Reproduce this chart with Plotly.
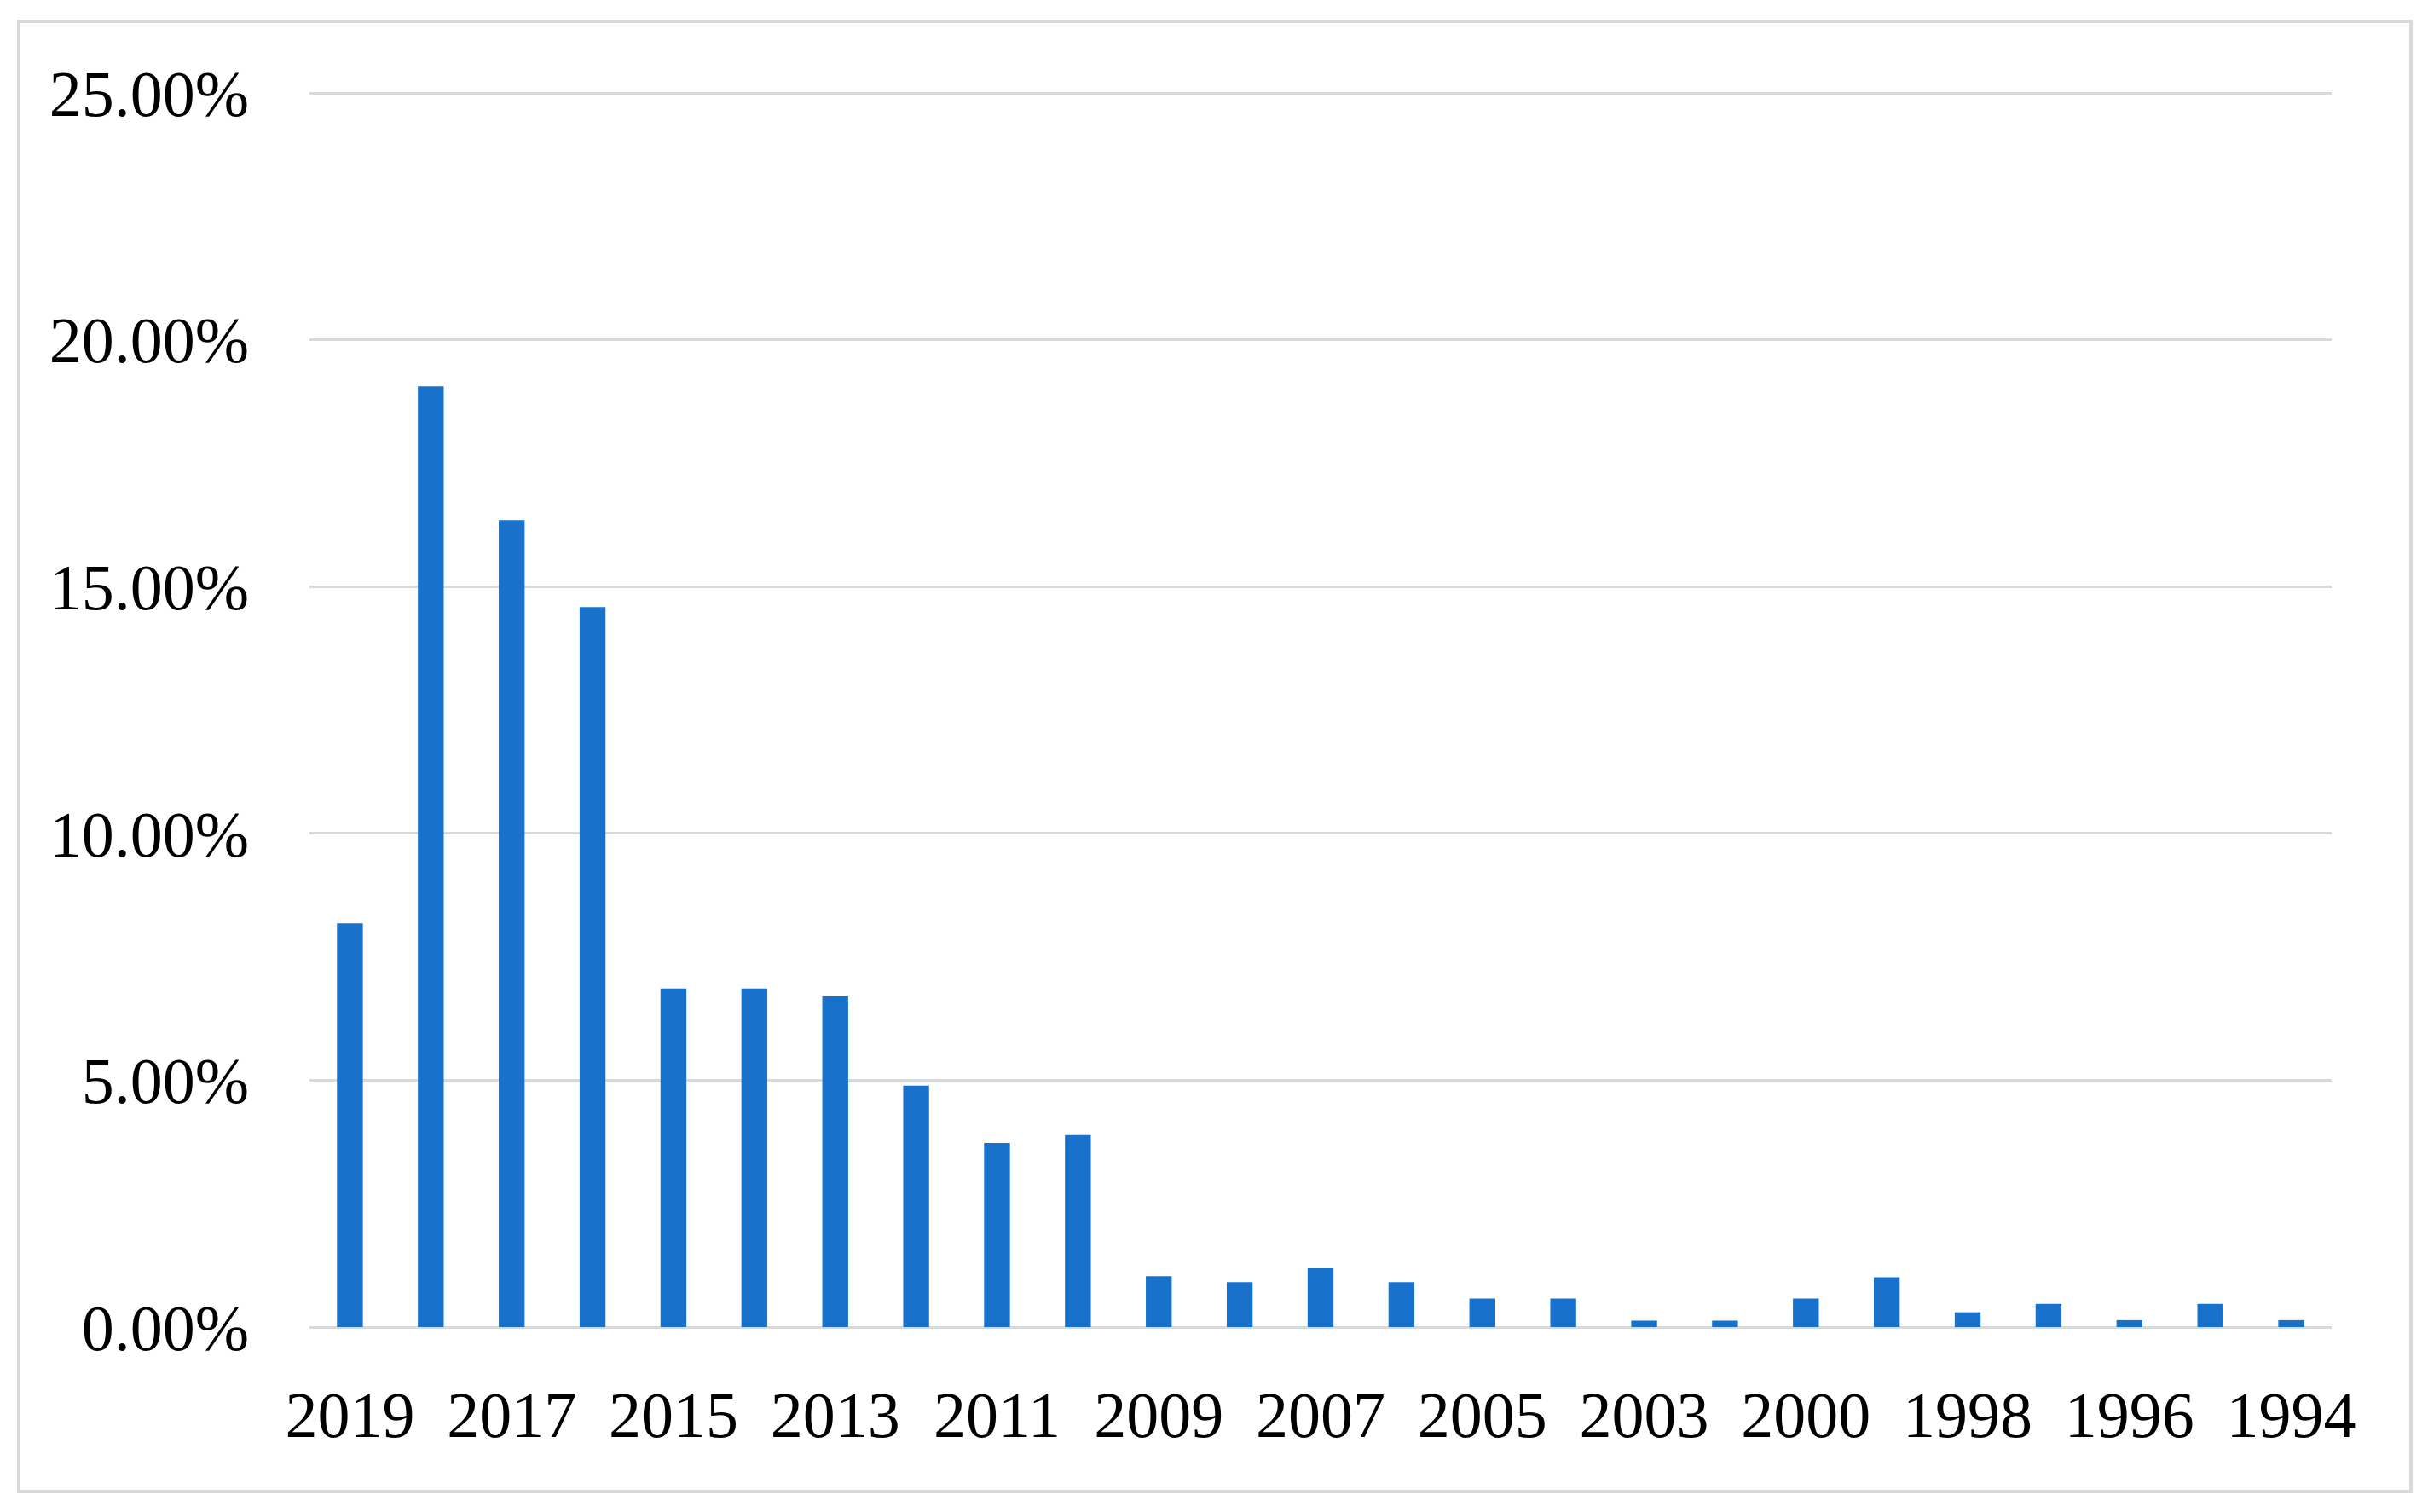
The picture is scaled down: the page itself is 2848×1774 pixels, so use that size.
import plotly.graph_objects as go

years = ["2019", "2018", "2017", "2016", "2015", "2014", "2013", "2012", "2011", "2010",
         "2009", "2008", "2007", "2006", "2005", "2004", "2003", "2002", "2000", "1999",
         "1998", "1997", "1996", "1995", "1994"]
share = [8.18, 19.06, 16.35, 14.59, 6.86, 6.86, 6.70, 4.89, 3.73, 3.89,
         1.03, 0.91, 1.19, 0.91, 0.58, 0.58, 0.13, 0.13, 0.58, 1.01,
         0.30, 0.47, 0.14, 0.47, 0.14]
share = [v / 100 for v in share]
x_tick_labels = years[::2]
y_ticks = [0, 0.05, 0.10, 0.15, 0.20, 0.25]

# page has an 8px body margin, so the figure is drawn 8px smaller and offset
OFF = 8
W, H = 2848 - OFF, 1774 - OFF
FONT = "Liberation Serif"
GRID = "#d9d9d9"

L, R = 363 - OFF, 2735 - OFF
T, B = 107 - OFF, 1557 - OFF

fig = go.Figure(go.Bar(
    x=years, y=share,
    marker=dict(color="#1872CB", line=dict(width=0)),
))

fig.update_layout(
    width=W, height=H,
    margin=dict(l=L, r=W - R, t=T, b=H - B),
    paper_bgcolor="white", plot_bgcolor="white",
    bargap=0.68,
    showlegend=False,
    font=dict(family=FONT, size=76, color="black"),
    xaxis=dict(
        type="category",
        tickmode="array", tickvals=x_tick_labels, ticktext=x_tick_labels,
        showgrid=False, showline=False, zeroline=False, ticks="",
        ticklabelstandoff=52,
        tickfont=dict(family=FONT, size=76, color="black"),
    ),
    yaxis=dict(
        range=[0, 0.2504],
        tickvals=y_ticks, tickformat=".2%",
        showgrid=True, gridcolor=GRID, gridwidth=3,
        zeroline=True, zerolinecolor=GRID, zerolinewidth=3,
        showline=False, ticks="",
        ticklabelstandoff=70,
        tickfont=dict(family=FONT, size=76, color="black"),
    ),
    shapes=[dict(
        type="rect", xref="paper", yref="paper",
        x0=(22 - OFF - L) / (R - L), x1=(2828 - OFF - L) / (R - L),
        y0=(B - (1750 - OFF)) / (B - T), y1=(B - (25 - OFF)) / (B - T),
        line=dict(color="#d9d9d9", width=4), layer="below",
    )],
)

fig.write_html("out.html")
